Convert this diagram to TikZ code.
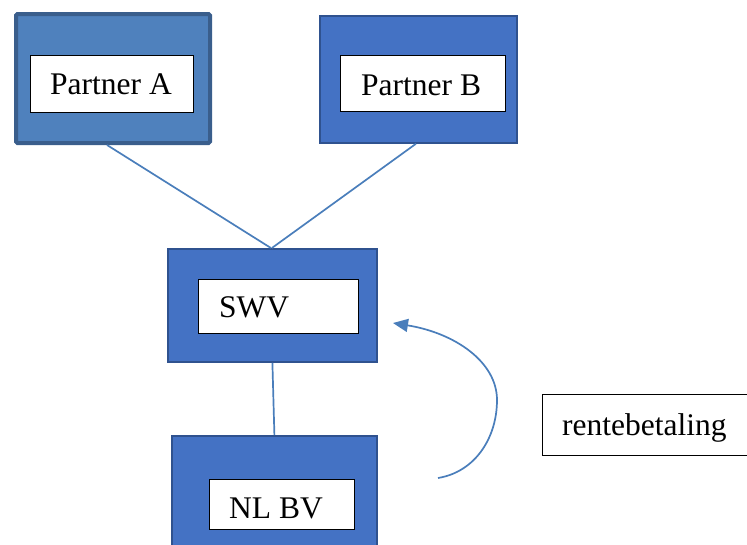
\documentclass[tikz,border=0pt]{standalone}
\usepackage{fontspec}
\setmainfont{Liberation Serif}
\usetikzlibrary{arrows.meta,calc}
\definecolor{boxblue}{HTML}{4472C4}
\definecolor{boxedge}{HTML}{2F528F}
\definecolor{steelblue}{HTML}{4F81BD}
\definecolor{steeledge}{HTML}{3A5E8C}
\definecolor{linkblue}{HTML}{4A7EBB}
\tikzset{
  outerbox/.style={rectangle, fill=boxblue, draw=boxedge, line width=1.8pt, anchor=north west, inner sep=0pt},
  outerboxa/.style={outerbox, fill=steelblue, draw=steeledge, line width=4pt, rounded corners=1.5pt},
  innerbox/.style={rectangle, fill=white, draw=black, line width=1.3pt, anchor=north west, inner sep=0pt},
  lbl/.style={anchor=base west, inner sep=0pt, font=\fontsize{31.5}{36}\selectfont},
  link/.style={draw=linkblue, line width=1.7pt},
}
\begin{document}
\begin{tikzpicture}[x=1pt,y=-1pt]
\useasboundingbox (0,0) rectangle (747,544);
% Partner A
\node[outerboxa, minimum width=194pt, minimum height=129pt] (A) at (14,12) {};
\node[innerbox, minimum width=163pt, minimum height=57pt] (Ain) at (30,55) {};
\node[lbl] (Atxt) at (50,94) {Partner A};
% Partner B
\node[outerbox, minimum width=197pt, minimum height=127pt] (B) at (319,15) {};
\node[innerbox, minimum width=165pt, minimum height=56pt] (Bin) at (340,55) {};
\node[lbl] (Btxt) at (361,95) {Partner B};
% SWV
\node[outerbox, minimum width=209pt, minimum height=113pt] (S) at (167,248) {};
\node[innerbox, minimum width=160pt, minimum height=54pt] (Sin) at (198,279) {};
\node[lbl] (Stxt) at (219,317.5) {SWV};
% NL BV
\node[outerbox, minimum width=205pt, minimum height=130pt] (N) at (171,435) {};
\node[innerbox, minimum width=145pt, minimum height=50pt] (Nin) at (209,479) {};
\node[lbl] (Ntxt) at (229,518) {NL BV};
% rentebetaling
\node[innerbox, minimum width=210pt, minimum height=61pt] (R) at (542,394) {};
\node[lbl] (Rtxt) at (562,435) {rentebetaling};
% connectors
\coordinate (Atop) at ([xshift=-6pt]A.south);
\coordinate (Btop) at ([xshift=-2.5pt]B.south);
\coordinate (Sjoin) at ([xshift=-1.5pt]S.north);
\path[link] (Atop) -- (Sjoin);
\path[link] (Btop) -- ([xshift=1pt]Sjoin);
\path[link] (S.south) -- (N.north);
% curved arrow for the interest payment
\coordinate (c0) at (438,478);
\coordinate (c1) at (497,400);
\coordinate (c2) at (393,323);
\path[link, -{Triangle[length=15pt,width=13pt]}] (c0) .. controls (475,472) and (497,438) .. (c1)
  .. controls (497,362) and (455,333) .. (c2);
\end{tikzpicture}
\end{document}
